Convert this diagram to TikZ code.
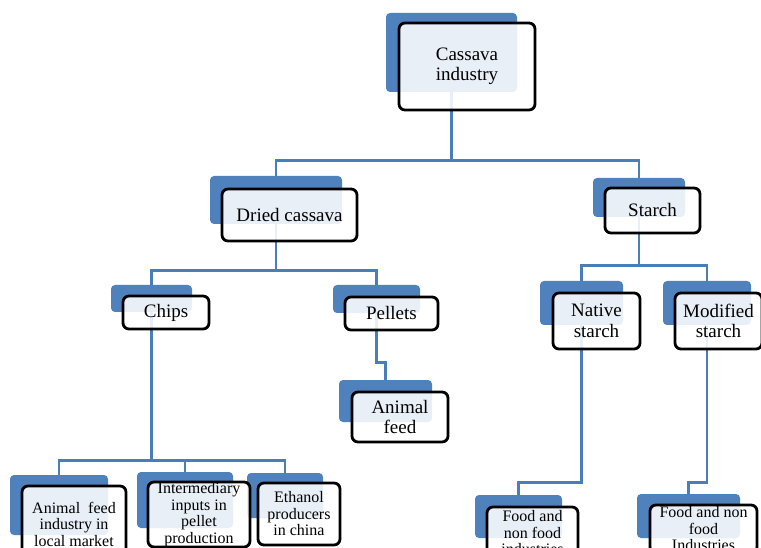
\documentclass[tikz,border=0pt]{standalone}
\usepackage{fontspec}
\setmainfont{Liberation Serif}
\usetikzlibrary{calc,positioning}
\definecolor{smartblue}{HTML}{4F81BD}
\definecolor{linkblue}{HTML}{4A7EBB}
\tikzset{
  tilebg/.style={fill=smartblue, rounded corners=4pt, inner sep=0pt},
  tile/.style={draw=black, line width=2.8pt, rounded corners=6pt, fill=white,
    fill opacity=0.88, text opacity=1, align=center, inner xsep=2pt, inner ysep=0pt,
    text=black, font=\fontsize{19}{20.5}\selectfont},
  tilesm/.style={tile, font=\fontsize{16}{16.5}\selectfont},
  link/.style={draw=linkblue, line width=2.8pt}
}

\begin{document}
\begin{tikzpicture}[x=1pt, y=-1pt]
  \useasboundingbox (0,0) rectangle (761,548);
  \clip (0,0) rectangle (761,548);

  % blue back tiles
  \node[tilebg, minimum width=131, minimum height=79] (cas-bg) at (451.5,52.5) {};
  \node[tilebg, minimum width=132, minimum height=48] (dc-bg) at (276,200) {};
  \node[tilebg, minimum width=92, minimum height=39] (st-bg) at (639,197.5) {};
  \node[tilebg, minimum width=81, minimum height=27] (chips-bg) at (151.5,298.5) {};
  \node[tilebg, minimum width=87, minimum height=28] (pel-bg) at (376.5,299) {};
  \node[tilebg, minimum width=93, minimum height=42] (af-bg) at (385.5,401) {};
  \node[tilebg, minimum width=83, minimum height=44] (ns-bg) at (581.5,303) {};
  \node[tilebg, minimum width=88, minimum height=44] (ms-bg) at (707,303) {};
  \node[tilebg, minimum width=98, minimum height=60] (afi-bg) at (59,505) {};
  \node[tilebg, minimum width=96, minimum height=56] (inp-bg) at (185,500) {};
  \node[tilebg, minimum width=76, minimum height=45] (eth-bg) at (285,495.5) {};
  \node[tilebg, minimum width=87, minimum height=43] (fn1-bg) at (518.5,516.5) {};
  \node[tilebg, minimum width=103, minimum height=44] (fn2-bg) at (688.5,516) {};

  % connectors
  \draw[link] (cas-bg.south) -- ++(0,68) coordinate (cas-fork) -| (dc-bg.north);
  \draw[link] (cas-fork) -| (st-bg.north);
  \draw[link] (dc-bg.south) -- ++(0,46) coordinate (dc-fork) -| (chips-bg.north);
  \draw[link] (dc-fork) -| (pel-bg.north);
  \draw[link] (pel-bg.south) -- ++(0,49) -| (af-bg.north);
  \draw[link] (chips-bg.south) -- ++(0,148) coordinate (chips-fork) -| (afi-bg.north);
  \draw[link] (chips-fork) -| (inp-bg.north);
  \draw[link] (chips-fork) -| (eth-bg.north);
  \draw[link] (st-bg.south) -- ++(0,48) coordinate (st-fork) -| (ns-bg.north);
  \draw[link] (st-fork) -| (ms-bg.north);
  \draw[link] (ns-bg.south) -- ++(0,157) -| (fn1-bg.north);
  \draw[link] (ms-bg.south) -- ++(0,157) -| (fn2-bg.north);

  % front tiles
  \node[tile, minimum width=136, minimum height=87] (cas) at (467,66.5) {Cassava\\industry};
  \node[tile, minimum width=135, minimum height=52] (dc) at (289.5,215) {Dried cassava};
  \node[tile, minimum width=95, minimum height=45] (st) at (652.5,210.5) {Starch};
  \node[tile, minimum width=86, minimum height=33] (chips) at (166,312.5) {Chips};
  \node[tile, minimum width=93, minimum height=33] (pel) at (391.5,313.5) {Pellets};
  \node[tile, minimum width=96, minimum height=50] (af) at (400,417) {Animal\\feed};
  \node[tile, minimum width=87, minimum height=56] (ns) at (596.5,321) {Native\\starch};
  \node[tile, minimum width=87, minimum height=56] (ms) at (718.5,321) {Modified\\starch};
  \node[tilesm, minimum width=104, minimum height=76] (afi) at (74,524) {Animal~~feed\\industry in\\local market};
  \node[tilesm, minimum width=102, minimum height=65] (inp) at (199,514.5) {Intermediary\\inputs in\\pellet\\production};
  \node[tilesm, minimum width=82, minimum height=62] (eth) at (299,514) {Ethanol\\producers\\in china};
  \node[tilesm, minimum width=91, minimum height=52] (fn1) at (532.5,533) {Food and\\non food\\industries};
  \node[tilesm, minimum width=107, minimum height=48] (fn2) at (703.5,529) {Food and non\\food\\Industries};
\end{tikzpicture}
\end{document}
